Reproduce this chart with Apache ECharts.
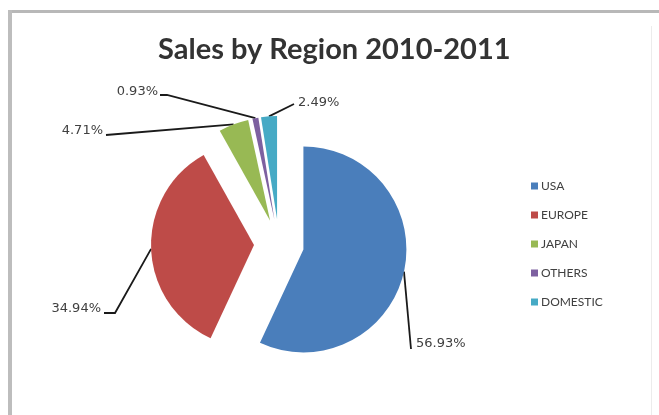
<!DOCTYPE html>
<html>
<head>
<meta charset="utf-8">
<script src="https://cdn.jsdelivr.net/npm/echarts@6/dist/echarts.min.js"></script>
<style>
html,body{margin:0;padding:0;background:#fff;}
#chart{width:659px;height:415px;}
</style>
</head>
<body>
<div id="chart"></div>
<script>
// ---- data ----
const regions = ['USA', 'EUROPE', 'JAPAN', 'OTHERS', 'DOMESTIC'];
const shares = [56.93, 34.94, 4.71, 0.93, 2.49];
const titleText = 'Sales by Region 2010-2011';

// ---- style ----
const colors = ['#4A7EBB', '#BE4B48', '#98B954', '#7D60A0', '#46AAC5'];
const pieCenter = [279, 244];
const pieRadius = 103;
const explode = 25;
// label anchor (text position) and leader-line bend points, per slice
const labelSpots = [
  { x: 416, y: 344, align: 'left',  bends: [[411, 349]] },
  { x: 101, y: 309, align: 'right', bends: [[115, 313], [104, 313]] },
  { x: 103, y: 131, align: 'right', bends: [[106, 135]] },
  { x: 158, y: 92,  align: 'right', bends: [[167, 95], [160, 95]] },
  { x: 298, y: 103, align: 'left',  bends: [[294, 104]] }
];

const total = shares.reduce((a, b) => a + b, 0);
function edgePoint(i) {
  let before = 0;
  for (let k = 0; k < i; k++) before += shares[k];
  const mid = (before + shares[i] / 2) / total * Math.PI * 2;
  const d = explode + pieRadius;
  return [pieCenter[0] + d * Math.sin(mid), pieCenter[1] - d * Math.cos(mid)];
}

const chart = echarts.init(document.getElementById('chart'), null, { renderer: 'canvas' });
chart.setOption({
  animation: false,
  backgroundColor: '#ffffff',
  color: colors,
  title: {
    text: titleText,
    left: 158,
    top: 35,
    padding: 0,
    textStyle: { fontFamily: 'Lato', fontWeight: 'bold', fontSize: 29, color: '#333333' }
  },
  legend: {
    orient: 'vertical',
    left: 526,
    top: 174,
    icon: 'rect',
    itemWidth: 7,
    itemHeight: 7,
    itemGap: 15,
    selectedMode: false,
    textStyle: { fontFamily: 'Lato', fontSize: 12, color: '#404040', lineHeight: 14, padding: [0, 0, 0, -2] },
    data: regions
  },
  graphic: [
    { type: 'rect', left: 8, top: 10, shape: { width: 651, height: 3 }, style: { fill: '#b8b8b8' }, silent: true },
    { type: 'rect', left: 8, top: 10, shape: { width: 4, height: 405 }, style: { fill: '#bdbdbd' }, silent: true },
    { type: 'rect', left: 651, top: 26, shape: { width: 1, height: 389 }, style: { fill: '#ececec' }, silent: true }
  ],
  series: [{
    name: 'Sales',
    type: 'pie',
    center: pieCenter,
    radius: pieRadius,
    startAngle: 90,
    clockwise: true,
    selectedMode: 'multiple',
    selectedOffset: explode,
    emphasis: { disabled: true },
    itemStyle: { borderWidth: 0 },
    label: { show: false },
    labelLine: { show: false },
    data: regions.map((r, i) => ({ name: r, value: shares[i], selected: true }))
  }, {
    name: 'Labels',
    type: 'pie',
    center: pieCenter,
    radius: pieRadius,
    startAngle: 90,
    clockwise: true,
    silent: true,
    selectedMode: false,
    avoidLabelOverlap: false,
    emphasis: { disabled: true },
    itemStyle: { color: 'rgba(0,0,0,0)', borderWidth: 0 },
    label: {
      show: true,
      formatter: p => p.value.toFixed(2) + '%',
      fontFamily: 'DejaVu Sans',
      fontSize: 13,
      color: '#404040'
    },
    labelLine: { show: true, length: 10, length2: 10, lineStyle: { color: '#1a1a1a', width: 1.8 } },
    labelLayout: function (params) {
      const i = params.dataIndex;
      const s = labelSpots[i];
      return {
        x: s.x, y: s.y, align: s.align, verticalAlign: 'middle',
        labelLinePoints: [edgePoint(i)].concat(s.bends)
      };
    },
    data: regions.map((r, i) => ({ name: r, value: shares[i] }))
  }]
});
</script>
</body>
</html>
